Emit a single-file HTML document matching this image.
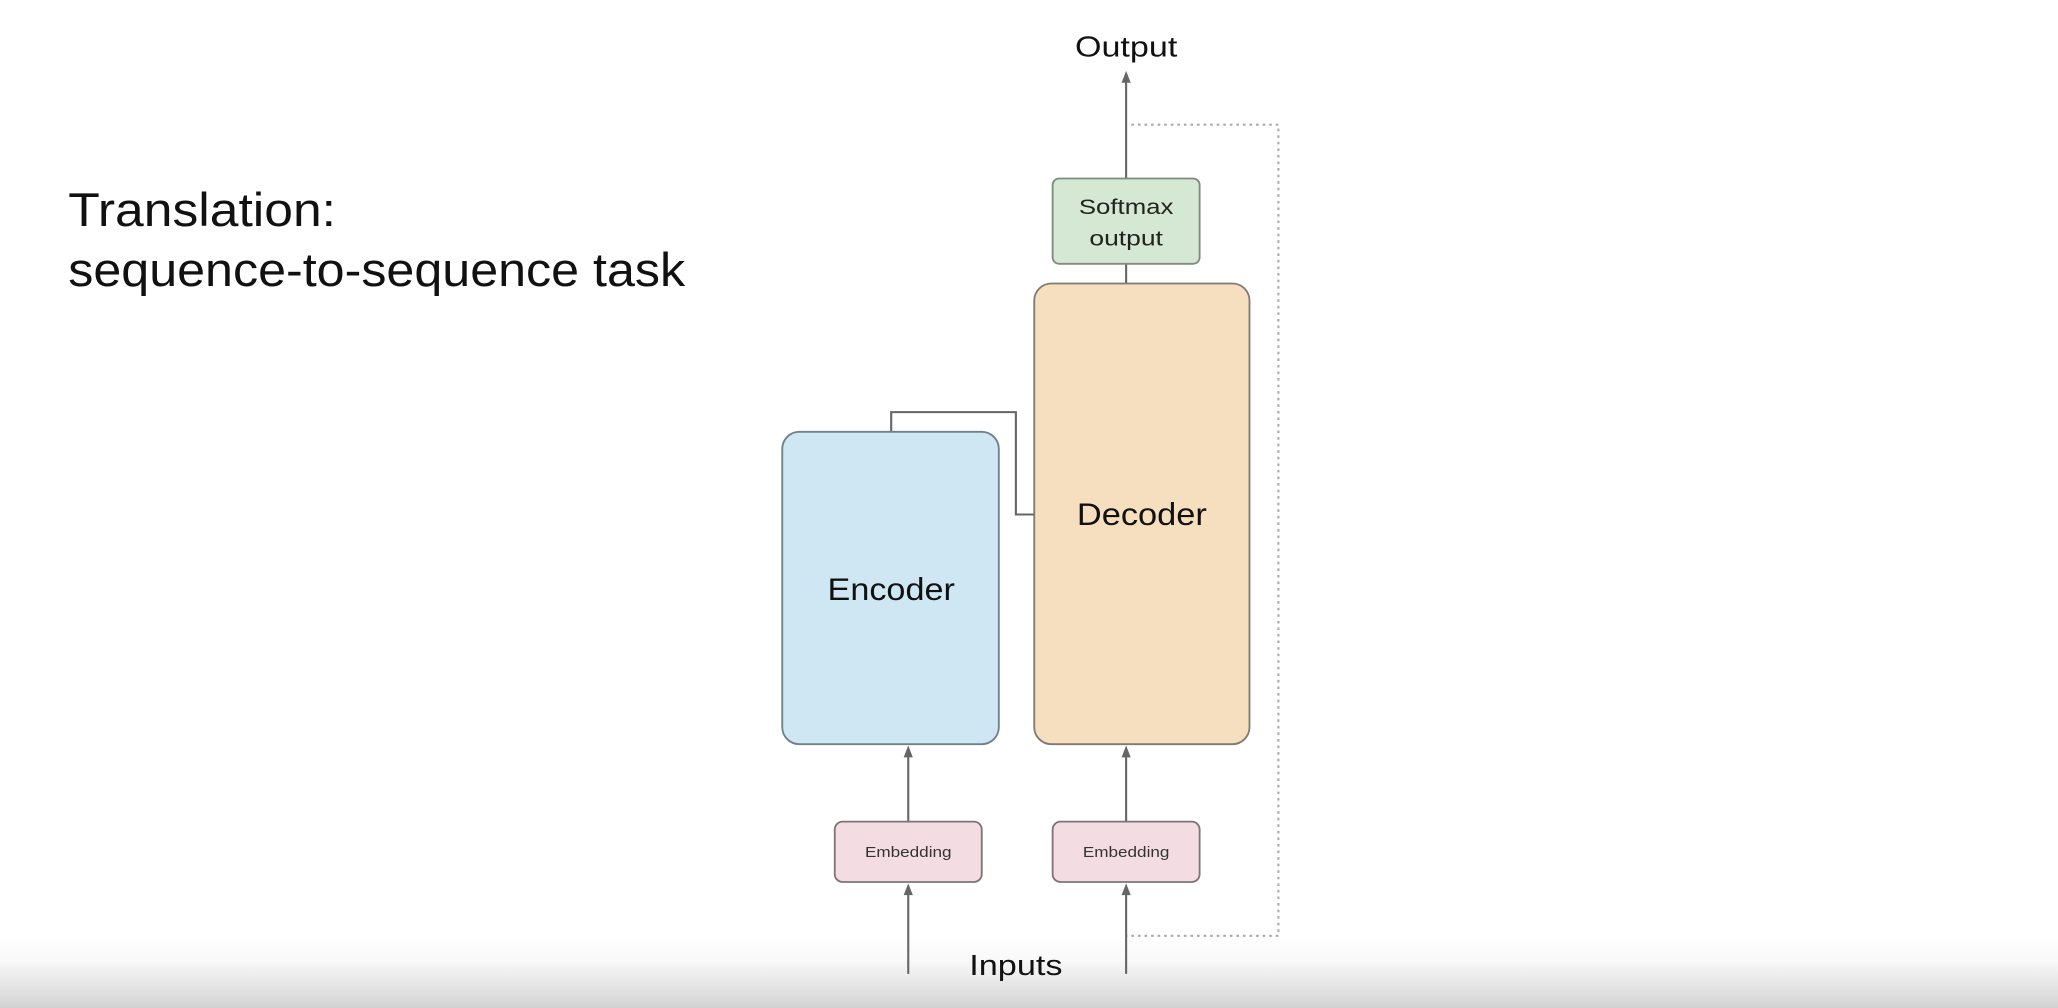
<!DOCTYPE html>
<html><head><meta charset="utf-8"><style>
html,body{margin:0;padding:0;background:#fff;width:2058px;height:1008px;overflow:hidden}
svg{display:block}
text{font-family:"Liberation Sans",sans-serif}
</style></head><body>
<svg width="2058" height="1008" viewBox="0 0 1568 768" xmlns="http://www.w3.org/2000/svg">
<defs>
<linearGradient id="bg" x1="0" y1="0" x2="0" y2="1">
<stop offset="0" stop-color="#ffffff"/><stop offset="0.35" stop-color="#f9f9f9"/><stop offset="1" stop-color="#d3d3d3"/>
</linearGradient>
</defs>
<rect x="0" y="0" width="1568" height="768" fill="#fff"/>
<rect x="0" y="712" width="1568" height="56" fill="url(#bg)"/>

<text x="52" y="172" font-size="36" fill="#111" textLength="204" lengthAdjust="spacingAndGlyphs">Translation:</text>
<text x="52" y="218" font-size="36" fill="#111" textLength="470" lengthAdjust="spacingAndGlyphs">sequence-to-sequence task</text>

<path d="M862 95 H974 V713 H858" fill="none" stroke="#aaa" stroke-width="1.6" stroke-dasharray="2 3"/>

<g stroke="#666" stroke-width="1.6" fill="none">
<line x1="858" y1="60" x2="858" y2="136"/>
<line x1="858" y1="201" x2="858" y2="216"/>
<path d="M679 329 V314 H774 V392 H788"/>
<line x1="692" y1="573" x2="692" y2="626"/>
<line x1="858" y1="573" x2="858" y2="626"/>
<line x1="692" y1="678" x2="692" y2="742"/>
<line x1="858" y1="678" x2="858" y2="742"/>
</g>
<g fill="#666">
<path d="M858 54 L854.5 63 L861.5 63Z"/>
<path d="M692 568 L688.5 577 L695.5 577Z"/>
<path d="M858 568 L854.5 577 L861.5 577Z"/>
<path d="M692 673 L688.5 682 L695.5 682Z"/>
<path d="M858 673 L854.5 682 L861.5 682Z"/>
</g>

<text x="858" y="43" font-size="22" text-anchor="middle" fill="#111" textLength="78" lengthAdjust="spacingAndGlyphs">Output</text>

<rect x="802" y="136" width="112" height="65" rx="5" fill="#d4e8d3" stroke="#7d8a7d" stroke-width="1.4"/>
<text x="858" y="163" font-size="16.5" text-anchor="middle" fill="#222" textLength="72" lengthAdjust="spacingAndGlyphs">Softmax</text>
<text x="858" y="187" font-size="16.5" text-anchor="middle" fill="#222" textLength="56" lengthAdjust="spacingAndGlyphs">output</text>

<rect x="788" y="216" width="164" height="351" rx="13" fill="#f6dfbe" stroke="#7f7a72" stroke-width="1.4"/>
<text x="870" y="400" font-size="24" text-anchor="middle" fill="#111" textLength="99" lengthAdjust="spacingAndGlyphs">Decoder</text>

<rect x="596" y="329" width="165" height="238" rx="13" fill="#cfe7f3" stroke="#6f8088" stroke-width="1.4"/>
<text x="679" y="457" font-size="24" text-anchor="middle" fill="#111" textLength="97" lengthAdjust="spacingAndGlyphs">Encoder</text>

<rect x="636" y="626" width="112" height="46" rx="6" fill="#f4dde2" stroke="#7e7478" stroke-width="1.4"/>
<text x="692" y="653" font-size="11.5" text-anchor="middle" fill="#333" textLength="66" lengthAdjust="spacingAndGlyphs">Embedding</text>
<rect x="802" y="626" width="112" height="46" rx="6" fill="#f4dde2" stroke="#7e7478" stroke-width="1.4"/>
<text x="858" y="653" font-size="11.5" text-anchor="middle" fill="#333" textLength="66" lengthAdjust="spacingAndGlyphs">Embedding</text>

<text x="774" y="743" font-size="22" text-anchor="middle" fill="#111" textLength="71" lengthAdjust="spacingAndGlyphs">Inputs</text>
</svg>
</body></html>
